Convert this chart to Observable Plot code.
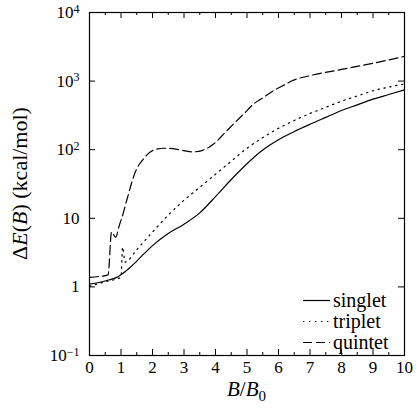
<!DOCTYPE html>
<html>
<head>
<meta charset="utf-8">
<script src="https://cdn.jsdelivr.net/npm/d3@7"></script>
<script src="https://cdn.jsdelivr.net/npm/@observablehq/plot@0.6"></script>
<style>
  body { margin: 0; background: #fff; }
  #chart { position: relative; width: 419px; height: 419px; font-family: "Liberation Serif", serif; color: #000; }
  #chart svg { display: block; }
  .legend { position: absolute; left: 303px; top: 290px; font-size: 20px; line-height: 21px; }
  .legend .row { display: flex; align-items: center; height: 21px; }
  .legend svg { width: 27px; height: 21px; margin-right: 3px; }
</style>
</head>
<body>
<div id="chart"></div>
<script>
// Energy gap ΔE(B) versus field strength B/B0 for the three spin states
const singletB = [0, 0.3, 0.6, 0.9, 1.0, 1.25, 1.5, 1.75, 2.0, 2.5, 3.0, 3.5, 4.0, 4.5, 5.0, 5.5, 6.0, 6.5, 7.0, 7.5, 8.0, 8.5, 9.0, 9.5, 10];
const singletE = [1.1, 1.16, 1.26, 1.4, 1.5, 1.85, 2.38, 3.1, 4.0, 6.0, 8.2, 12, 20.7, 36.8, 62.5, 99, 140, 184, 235, 296, 372, 451, 545, 637, 745];

const tripletB = [0, 0.3, 0.6, 0.9, 1.0, 1.05, 1.13, 1.5, 2.0, 2.5, 3.0, 3.5, 4.0, 4.5, 5.0, 5.5, 6.0, 6.5, 7.0, 7.5, 8.0, 8.5, 9.0, 9.5, 10];
const tripletE = [1.02, 1.12, 1.22, 1.32, 1.38, 3.8, 2.3, 3.5, 6.3, 11.1, 18.3, 28.3, 43.9, 67.9, 105, 150, 205, 267, 337, 414, 509, 607, 723, 818, 910];

const quintetB = [0, 0.3, 0.59, 0.7, 0.83, 0.95, 1.05, 1.2, 1.46, 1.73, 2.0, 2.37, 2.74, 3.0, 3.27, 3.59, 3.95, 4.3, 4.58, 4.9, 5.22, 5.5, 5.85, 6.15, 6.45, 7.0, 8.0, 9.0, 10];
const quintetE = [1.38, 1.42, 1.5, 6.3, 5.3, 8, 11, 19.6, 48, 75, 97, 105, 102, 97, 93, 98, 122, 177, 239, 334, 467, 569, 730, 861, 1020, 1200, 1480, 1820, 2290];

const states = ["singlet", "triplet", "quintet"];
const dashes = {singlet: null, triplet: "1.4,4.6", quintet: "9,4"};

const xMajor = [0, 1, 2, 3, 4, 5, 6, 7, 8, 9, 10];
const xMinor = [0.5, 1.5, 2.5, 3.5, 4.5, 5.5, 6.5, 7.5, 8.5, 9.5];
const yMajor = [0.1, 1, 10, 100, 1000, 10000];
const yTickText = ["10^−1", "1", "10", "10^2", "10^3", "10^4"];

const series = {
  singlet: singletB.map((b, i) => ({B: b, E: singletE[i]})),
  triplet: tripletB.map((b, i) => ({B: b, E: tripletE[i]})),
  quintet: quintetB.map((b, i) => ({B: b, E: quintetE[i]}))
};

const W = 419, H = 419;
const margin = {top: 12, right: 15, bottom: 64, left: 89};
const innerW = W - margin.left - margin.right;
const innerH = H - margin.top - margin.bottom;

const plot = Plot.plot({
  width: W,
  height: H,
  marginTop: margin.top,
  marginRight: margin.right,
  marginBottom: margin.bottom,
  marginLeft: margin.left,
  style: {fontFamily: "'Liberation Serif', serif", fontSize: "17px", color: "#000", background: "#fff"},
  x: {domain: [0, 10]},
  y: {type: "log", domain: [0.1, 10000]},
  marks: [
    Plot.axisX(xMajor, {tickSize: 0, tickPadding: 5, label: null, tickFormat: d => String(d)}),
    Plot.axisY(yMajor, {tickSize: 0, tickPadding: 10, label: null, tickFormat: d => yTickText[yMajor.indexOf(d)]}),
    // inward tick marks on all four sides
    Plot.tickX(xMajor, {x: d => d, insetTop: innerH - 6, stroke: "#000"}),
    Plot.tickX(xMajor, {x: d => d, insetBottom: innerH - 6, stroke: "#000"}),
    Plot.tickX(xMinor, {x: d => d, insetTop: innerH - 3, stroke: "#000"}),
    Plot.tickX(xMinor, {x: d => d, insetBottom: innerH - 3, stroke: "#000"}),
    Plot.tickY(yMajor, {y: d => d, insetRight: innerW - 6, stroke: "#000"}),
    Plot.tickY(yMajor, {y: d => d, insetLeft: innerW - 6, stroke: "#000"}),
    ...states.map(s => Plot.line(series[s], {
      x: "B", y: "E", curve: "monotone-x",
      stroke: "#000", strokeWidth: 1.2,
      strokeDasharray: dashes[s]
    })),
    Plot.frame({stroke: "#000", strokeWidth: 1.2})
  ]
});

const svg = d3.select(plot);

// exponents as raised, smaller text
svg.selectAll('g[aria-label="y-axis tick label"] text').each(function () {
  const t = d3.select(this);
  const parts = t.text().split("^");
  if (parts.length === 2) {
    t.text(parts[0]);
    t.append("tspan").attr("dy", "-0.45em").attr("font-size", "12px").text(parts[1]);
  }
});

const xr = plot.scale("x").range;
const yr = plot.scale("y").range;

const xl = svg.append("text")
  .attr("x", (xr[0] + xr[1]) / 2)
  .attr("y", H - 23)
  .attr("text-anchor", "middle")
  .attr("font-size", 21);
xl.append("tspan").attr("font-style", "italic").text("B");
xl.append("tspan").text("/");
xl.append("tspan").attr("font-style", "italic").text("B");
xl.append("tspan").attr("font-size", 15).attr("dy", "0.3em").text("0");

const yl = svg.append("text")
  .attr("transform", `translate(27,${(yr[0] + yr[1]) / 2}) rotate(-90)`)
  .attr("text-anchor", "middle")
  .attr("font-size", 22);
yl.append("tspan").text("Δ");
yl.append("tspan").attr("font-style", "italic").text("E");
yl.append("tspan").text("(");
yl.append("tspan").attr("font-style", "italic").text("B");
yl.append("tspan").text(") (kcal/mol)");

const chart = document.getElementById("chart");
chart.appendChild(plot);

// legend
const legend = document.createElement("div");
legend.className = "legend";
for (const s of states) {
  const row = document.createElement("div");
  row.className = "row";
  const dash = dashes[s] ? ` stroke-dasharray="${dashes[s]}"` : "";
  row.innerHTML = `<svg viewBox="0 0 27 21"><line x1="0" x2="27" y1="10.5" y2="10.5" stroke="#000" stroke-width="1.2"${dash}/></svg><span>${s}</span>`;
  legend.appendChild(row);
}
chart.appendChild(legend);
</script>
</body>
</html>
